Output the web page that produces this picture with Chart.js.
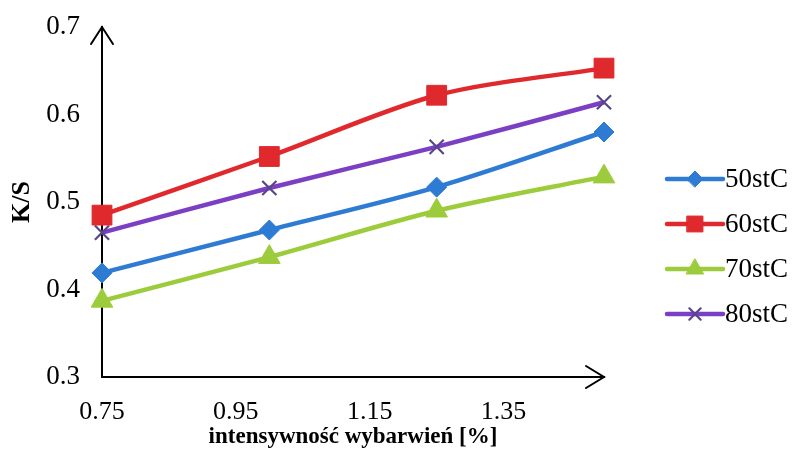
<!DOCTYPE html>
<html>
<head>
<meta charset="utf-8">
<script src="https://cdn.jsdelivr.net/npm/chart.js@4/dist/chart.umd.min.js"></script>
<style>
  html, body { margin: 0; padding: 0; background: #fff; }
  #wrap { width: 794px; height: 459px; }
</style>
</head>
<body>
<div id="wrap"><canvas id="c" width="794" height="459"></canvas></div>
<script>
// Dye intensity [%] on the x axis, K/S for four dyeing temperatures
const intensity = [0.75, 1.0, 1.25, 1.5];
const ks50 = [0.419, 0.468, 0.517, 0.580];
const ks60 = [0.485, 0.552, 0.622, 0.653];
const ks70 = [0.387, 0.437, 0.490, 0.529];
const ks80 = [0.465, 0.516, 0.563, 0.614];
const seriesNames = ['50stC', '60stC', '70stC', '80stC'];
const xTickValues = [0.75, 0.95, 1.15, 1.35];
const yTickValues = [0.3, 0.4, 0.5, 0.6, 0.7];

const SERIF = '"Liberation Serif", "Times New Roman", serif';

function pts(ys) { return intensity.map((x, i) => ({ x: x, y: ys[i] })); }

const styles = [
  { color: '#2e7bd3', marker: '#2e7bd3', pointStyle: 'rectRot', radius: 10, pbw: 1 },
  { color: '#e0292d', marker: '#e0292d', pointStyle: 'rect', radius: 14, pbw: 1 },
  { color: '#9ccb3b', marker: '#9ccb3b', pointStyle: 'triangle', radius: 12.5, pbw: 1 },
  { color: '#7b3fc4', marker: '#574689', pointStyle: 'crossRot', radius: 10, pbw: 2.2 }
];
const seriesValues = [ks50, ks60, ks70, ks80];

const datasets = seriesValues.map((vals, i) => ({
  label: seriesNames[i],
  data: pts(vals),
  borderColor: styles[i].color,
  backgroundColor: styles[i].color,
  pointBackgroundColor: styles[i].marker,
  pointBorderColor: styles[i].marker,
  pointStyle: styles[i].pointStyle,
  pointRadius: styles[i].radius,
  pointBorderWidth: styles[i].pbw,
  borderWidth: 4.5,
  tension: 0.3,
  clip: false
}));

// Arrow heads on both axes plus a legend that shows line + marker
const axisDecor = {
  id: 'axisDecor',
  afterDraw(chart) {
    const ctx = chart.ctx;
    const a = chart.chartArea;
    ctx.save();
    ctx.strokeStyle = '#000';
    ctx.lineWidth = 2;
    ctx.lineCap = 'round';
    ctx.lineJoin = 'miter';
    // y axis arrow
    ctx.beginPath();
    ctx.moveTo(a.left - 11, a.top + 17);
    ctx.lineTo(a.left, a.top);
    ctx.lineTo(a.left + 11, a.top + 17);
    ctx.stroke();
    // x axis arrow
    ctx.beginPath();
    ctx.moveTo(a.right - 18, a.bottom - 11);
    ctx.lineTo(a.right, a.bottom);
    ctx.lineTo(a.right - 18, a.bottom + 11);
    ctx.stroke();

    // legend
    const lx0 = a.right + 63, lx1 = a.right + 119;
    const ly0 = 179, gap = 45;
    chart.data.datasets.forEach((ds, i) => {
      const y = ly0 + i * gap;
      ctx.strokeStyle = ds.borderColor;
      ctx.lineWidth = 4.5;
      ctx.lineCap = 'round';
      ctx.beginPath();
      ctx.moveTo(lx0, y);
      ctx.lineTo(lx1, y);
      ctx.stroke();
      ctx.fillStyle = ds.pointBackgroundColor;
      ctx.strokeStyle = ds.pointBorderColor;
      ctx.lineWidth = ds.pointBorderWidth;
      Chart.helpers.drawPoint(ctx, {
        pointStyle: ds.pointStyle,
        radius: ds.pointRadius * 0.8,
        rotation: 0,
        borderWidth: ds.pointBorderWidth
      }, (lx0 + lx1) / 2, y);
      ctx.fillStyle = '#000';
      ctx.font = '27px ' + SERIF;
      ctx.textAlign = 'left';
      ctx.textBaseline = 'middle';
      ctx.fillText(ds.label, lx1 + 2, y + 1);
    });
    ctx.restore();
  }
};

new Chart(document.getElementById('c'), {
  type: 'line',
  data: { datasets: datasets },
  options: {
    responsive: false,
    animation: false,
    devicePixelRatio: 1,
    layout: { padding: { left: 0, right: 190, top: 27, bottom: 0 } },
    plugins: {
      legend: { display: false },
      tooltip: { enabled: false }
    },
    scales: {
      x: {
        type: 'linear',
        min: 0.75,
        max: 1.5,
        grid: { display: false, drawTicks: false },
        border: { display: true, color: '#000', width: 2 },
        afterBuildTicks(scale) { scale.ticks = xTickValues.map(v => ({ value: v })); },
        afterFit(scale) { scale.height = 82; scale.paddingLeft = 0; scale.paddingRight = 0; },
        ticks: {
          padding: 20,
          color: '#000',
          font: { family: SERIF, size: 26 },
          maxRotation: 0,
          autoSkip: false,
          callback: v => String(v)
        },
        title: {
          display: true,
          text: 'intensywność wybarwień [%]',
          color: '#000',
          font: { family: SERIF, size: 23, weight: 'bold' },
          padding: { top: 0, bottom: 8 }
        }
      },
      y: {
        min: 0.3,
        max: 0.7,
        grid: { display: false, drawTicks: false },
        border: { display: true, color: '#000', width: 2 },
        afterBuildTicks(scale) { scale.ticks = yTickValues.map(v => ({ value: v })); },
        afterFit(scale) { scale.width = 102; scale.paddingTop = 0; scale.paddingBottom = 0; },
        ticks: {
          padding: 22,
          color: '#000',
          font: { family: SERIF, size: 27 },
          callback: v => String(v)
        },
        title: {
          display: true,
          text: 'K/S',
          color: '#000',
          font: { family: SERIF, size: 26, weight: 'bold' },
          padding: { top: 7, bottom: 0 }
        }
      }
    }
  },
  plugins: [axisDecor]
});
</script>
</body>
</html>
